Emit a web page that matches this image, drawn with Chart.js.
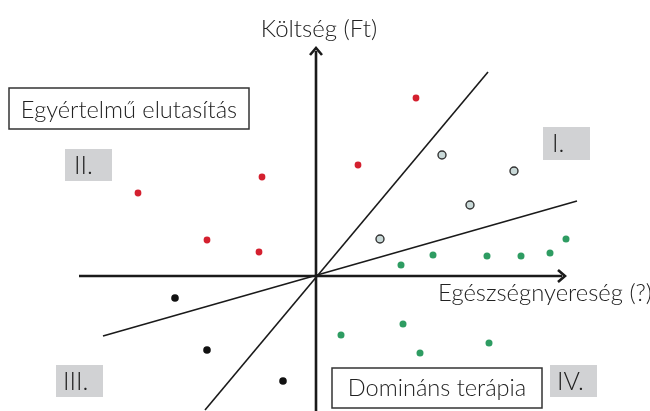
<!DOCTYPE html>
<html><head><meta charset="utf-8">
<script src="https://cdn.jsdelivr.net/npm/chart.js@4/dist/chart.umd.min.js"></script>
<style>html,body{margin:0;padding:0;background:#fff}#wrap{width:650px;height:411px}</style>
</head><body><div id="wrap"><canvas id="c"></canvas></div>
<script>
// data units: 1 unit along each axis of the cost-effectiveness plane
const redPoints = [[10.0,17.8],[4.2,11.1],[-5.4,9.9],[-17.8,8.3],[-10.9,3.6],[-5.7,2.4]];
const greyPoints = [[12.6,12.1],[19.8,10.5],[15.4,7.1],[6.4,3.7]];
const greenPoints = [[8.5,1.1],[11.7,2.1],[17.1,2.0],[20.5,2.0],[23.4,2.3],[25.0,3.7],[2.5,-5.9],[8.7,-4.8],[10.4,-7.7],[17.3,-6.7]];
const blackPoints = [[-14.1,-2.2],[-10.9,-7.4],[-3.3,-10.5]];
const steepLine = [[-11.1,-13.4],[17.2,20.4]];
const shallowLine = [[-21.3,-6.0],[26.1,7.5]];
const xAxisExtent = [-23.7,24.9];
const yAxisExtent = [-13.6,22.8];
const xTitle = 'Egészségnyereség (?)';
const yTitle = 'Költség (Ft)';
const quadrantLabels = ['I.','II.','III.','IV.'];
const boxTexts = ['Egyértelmű elutasítás','Domináns terápia'];

const toXY = a => a.map(p => ({x:p[0], y:p[1]}));
const FONT = 'Lato, "Open Sans", sans-serif';

const overlay = {
  id:'overlay',
  afterDatasetsDraw(chart){
    const {ctx, scales:{x,y}} = chart;
    const X = v => x.getPixelForValue(v), Y = v => y.getPixelForValue(v);
    ctx.save();
    // axes
    ctx.strokeStyle = '#1a1a1a'; ctx.fillStyle = '#1a1a1a'; ctx.lineWidth = 2.6;
    ctx.beginPath(); ctx.moveTo(X(xAxisExtent[0]),Y(0)); ctx.lineTo(X(xAxisExtent[1])-3,Y(0)); ctx.stroke();
    ctx.beginPath(); ctx.moveTo(X(0),Y(yAxisExtent[0])); ctx.lineTo(X(0),Y(yAxisExtent[1])+3); ctx.stroke();
    // arrowheads (open chevrons)
    ctx.lineWidth = 2.6; ctx.lineJoin='miter';
    let ax = X(xAxisExtent[1]), ay = Y(0);
    ctx.beginPath(); ctx.moveTo(ax-7,ay-6); ctx.lineTo(ax,ay); ctx.lineTo(ax-7,ay+6); ctx.stroke();
    ax = X(0); ay = Y(yAxisExtent[1]);
    ctx.beginPath(); ctx.moveTo(ax-6,ay+7); ctx.lineTo(ax,ay); ctx.lineTo(ax+6,ay+7); ctx.stroke();
    // titles
    ctx.fillStyle = '#222'; ctx.font = '300 24px '+FONT; ctx.textBaseline='alphabetic';
    ctx.textAlign='center'; ctx.fillText(yTitle, X(0)+3, 37);
    ctx.font = '300 23.8px '+FONT;
    ctx.textAlign='left'; ctx.fillText(xTitle, 438, 301);
    // quadrant labels (grey boxes)
    const quads = [[543,127,590,160,552],[65,149,112,181,74],[56,365,103,397,63],[550,365,597,397,557]];
    quads.forEach((q,i)=>{
      ctx.fillStyle='#d1d2d4'; ctx.fillRect(q[0],q[1],q[2]-q[0],q[3]-q[1]);
      ctx.fillStyle='#222'; ctx.font='300 25px '+FONT; ctx.textAlign='left';
      ctx.fillText(quadrantLabels[i], q[4], (q[1]+q[3])/2+8.5);
    });
    // framed boxes
    const boxes = [[9,88,249,129,9],[332,368,542,408,7.5]];
    boxes.forEach((b,i)=>{
      ctx.fillStyle='#fff'; ctx.fillRect(b[0],b[1],b[2]-b[0],b[3]-b[1]);
      ctx.strokeStyle='#333'; ctx.lineWidth=1.5; ctx.strokeRect(b[0],b[1],b[2]-b[0],b[3]-b[1]);
      ctx.fillStyle='#222'; ctx.font='300 23.6px '+FONT; ctx.textAlign='center';
      ctx.fillText(boxTexts[i], (b[0]+b[2])/2, (b[1]+b[3])/2+b[4]);
    });
    ctx.restore();
  }
};

const lineDs = (d) => ({type:'line', data:toXY(d), borderColor:'#1a1a1a', borderWidth:1.6, pointRadius:0, fill:false, showLine:true, order:5});
const ptDs = (d,bg,bc,r,bw) => ({type:'scatter', data:toXY(d), backgroundColor:bg, borderColor:bc, pointRadius:r, borderWidth:bw, pointHoverRadius:r, order:1});

new Chart(document.getElementById('c'),{
  data:{datasets:[
    lineDs(steepLine), lineDs(shallowLine),
    ptDs(redPoints,'#d4202f','#d4202f',3.4,0),
    ptDs(greyPoints,'#c9d9d8','#333',4,1.4),
    ptDs(greenPoints,'#2e9c62','#2e9c62',3.5,0),
    ptDs(blackPoints,'#111','#111',3.8,0)
  ]},
  options:{
    responsive:true, maintainAspectRatio:false, animation:false,
    layout:{padding:0, autoPadding:false},
    plugins:{legend:{display:false}, tooltip:{enabled:false}},
    scales:{
      x:{type:'linear', min:-31.6, max:33.4, display:false},
      y:{type:'linear', min:-13.5, max:27.6, display:false}
    }
  },
  plugins:[overlay]
});
</script></body></html>
